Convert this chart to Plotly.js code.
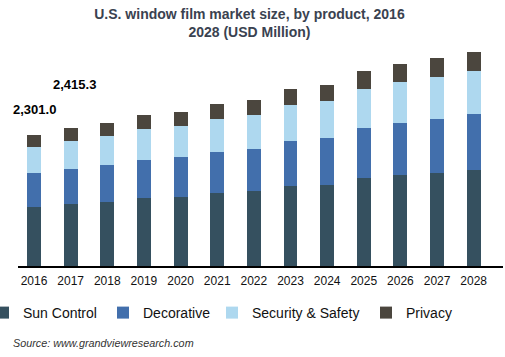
<!DOCTYPE html>
<html>
<head>
<meta charset="utf-8">
<script src="https://cdn.plot.ly/plotly-3.0.1.min.js"></script>
<style>html,body{margin:0;padding:0;background:#fff;}#chart{width:505px;height:357px;}</style>
</head>
<body>
<div id="chart"></div>
<script>
var years = ["2016","2017","2018","2019","2020","2021","2022","2023","2024","2025","2026","2027","2028"];
var sunControl = [1035, 1085, 1120, 1190, 1208, 1278, 1313, 1400, 1418, 1540, 1593, 1628, 1680];
var decorative = [598, 613, 648, 665, 700, 718, 735, 788, 823, 875, 910, 945, 980];
var securitySafety = [458, 490, 508, 543, 543, 578, 595, 630, 648, 683, 718, 735, 753];
var privacy = [210, 227.3, 228, 245, 245, 263, 263, 280, 280, 315, 315, 333, 333];
var seriesNames = ["Sun Control", "Decorative", "Security & Safety", "Privacy"];
var seriesColors = ["#35505f", "#426fac", "#aed8ef", "#4b463e"];
var labelYears = ["2016", "2017"];
var labelTexts = ["2,301.0", "2,415.3"];

var seriesValues = [sunControl, decorative, securitySafety, privacy];
var legendIds = ["legend", "legend2", "legend3", "legend4"];
var traces = seriesValues.map(function (vals, i) {
  return {
    type: "bar",
    name: seriesNames[i],
    x: years,
    y: vals,
    marker: {color: seriesColors[i], line: {width: 0}},
    width: 0.38,
    legend: legendIds[i],
    hoverinfo: "x+y+name"
  };
});

var totals = years.map(function (_, j) {
  return sunControl[j] + decorative[j] + securitySafety[j] + privacy[j];
});

var plotLeft = 18, plotWidth = 485, plotTop = 37, plotHeight = 229;
var unitsPerPx = 17.5;
function px2paperX(px) { return (px - plotLeft) / plotWidth; }
function px2paperY(py) { return (plotTop + plotHeight - py) / plotHeight; }

var legendTextStarts = [22, 142, 251, 405];
var layout = {
  width: 505,
  height: 357,
  margin: {l: plotLeft, r: 505 - plotLeft - plotWidth, t: plotTop, b: 357 - plotTop - plotHeight, autoexpand: false},
  paper_bgcolor: "#ffffff",
  plot_bgcolor: "#ffffff",
  font: {family: "Liberation Sans, Arial, sans-serif", color: "#111"},
  title: {
    text: "U.S. window film market size, by product, 2016<br>2028 (USD Million)",
    font: {family: "Liberation Sans, Arial, sans-serif", size: 14, color: "#3a4250", weight: "bold"},
    x: 0.494, xref: "container", xanchor: "center",
    y: 0.947, yref: "container", yanchor: "top"
  },
  barmode: "stack",
  bargap: 0.62,
  xaxis: {
    type: "category",
    range: [-0.437, 12.80],
    showline: true, linecolor: "#000", linewidth: 2,
    ticks: "", showgrid: false, zeroline: false,
    tickfont: {size: 12, color: "#111"},
    ticklabelstandoff: 3,
    fixedrange: true
  },
  yaxis: {
    range: [0, plotHeight * unitsPerPx],
    visible: true, showticklabels: false, showline: false, ticks: "",
    showgrid: false, zeroline: false,
    fixedrange: true
  },
  annotations: [],
  showlegend: true
};

legendIds.forEach(function (id, i) {
  layout[id] = {
    orientation: "h",
    x: px2paperX(legendTextStarts[i] - 39), xanchor: "left",
    y: px2paperY(313), yanchor: "middle",
    font: {size: 14, color: "#111"},
    bgcolor: "rgba(0,0,0,0)",
    borderwidth: 0,
    itemclick: false, itemdoubleclick: false
  };
});

var labelShifts = [{dx: 0, dy: 16}, {dx: 4, dy: 34}];
labelYears.forEach(function (yr, k) {
  var j = years.indexOf(yr);
  layout.annotations.push({
    x: j, y: totals[j], xref: "x", yref: "y",
    text: labelTexts[k], showarrow: false,
    xanchor: "center", yanchor: "bottom",
    xshift: labelShifts[k].dx, yshift: labelShifts[k].dy,
    font: {size: 13, color: "#000", weight: "bold"}
  });
});

layout.annotations.push({
  xref: "paper", yref: "paper",
  x: px2paperX(11), y: px2paperY(343),
  xanchor: "left", yanchor: "middle",
  text: "<i>Source: www.grandviewresearch.com</i>",
  showarrow: false,
  font: {size: 10.8, color: "#333"}
});

Plotly.newPlot("chart", traces, layout, {displayModeBar: false, staticPlot: true});
</script>
</body>
</html>
